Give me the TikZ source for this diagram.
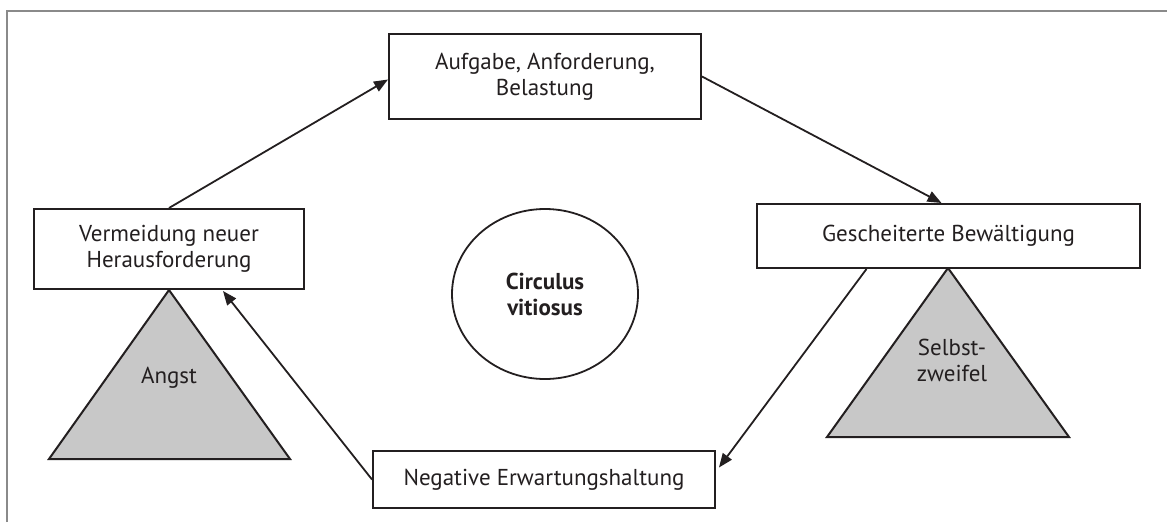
\documentclass[tikz,border=0pt]{standalone}
\usepackage{fontspec}
\setmainfont{PT Sans}
\usepackage{xcolor}
\usepackage{tikz}
\usetikzlibrary{positioning, arrows.meta, calc, shapes.geometric}
\definecolor{cvink}{HTML}{231F20}
\definecolor{cvgray}{HTML}{C8C8C8}
\definecolor{cvframe}{HTML}{8A8A8A}

\begin{document}
\begin{tikzpicture}[
    x=1pt, y=-1pt,
    stage/.style={draw=cvink, line width=2pt, fill=white, align=center,
                  font=\fontsize{23}{26}\selectfont, text=cvink, inner sep=0pt},
    moodtri/.style={draw=cvink, line width=2pt, fill=cvgray, line join=miter},
    moodtext/.style={font=\fontsize{23}{26}\selectfont, text=cvink, align=center},
    flow/.style={draw=cvink, line width=1.8pt, -{Triangle[length=14pt, width=11pt]}},
]
\useasboundingbox (0,0) rectangle (1167,522);

% frame (only top and left edge visible)
\draw[cvframe, line width=2.4pt] (7,522) -- (7,11) -- (1167,11);

% emotions (triangles under the boxes)
\draw[moodtri] (169,290) -- (290,459) -- (49,459) -- cycle;
\node[moodtext] (angst) at (169,378) {Angst};
\draw[moodtri] (948,268) -- (1069,437) -- (827,437) -- cycle;
\node[moodtext] (zweifel) at (952,360) {Selbst-\\zweifel};

% stages of the cycle
\node[stage, minimum width=312, minimum height=85] (task) at (545,76.5)
  {Aufgabe, Anforderung,\\Belastung};
\node[stage, minimum width=383, minimum height=64] (fail) at (948.5,236)
  {Gescheiterte Bewältigung};
\node[stage, minimum width=342, minimum height=57] (neg) at (544,479.5)
  {Negative Erwartungshaltung};
\node[stage, minimum width=270, minimum height=80] (avoid) at (169,249)
  {Vermeidung neuer\\Herausforderung};

% centre
\node[draw=cvink, line width=1.8pt, ellipse, minimum width=186, minimum height=170,
      inner sep=0pt, align=center, font=\fontsize{23}{26}\selectfont\bfseries, text=cvink]
  (circ) at (545,294) {Circulus\\vitiosus};

% arrows round the cycle
\draw[flow] (avoid.north) -- ($(task.west)+(0,3)$);
\draw[flow] (task.east) -- ($(fail.north)+(-7,0)$);
\draw[flow] ($(fail.south)+(-82,0)$) -- ($(neg.east)+(3,-12)$);
\draw[flow] (neg.west) -- ($(avoid.south)+(54,1)$);

\end{tikzpicture}
\end{document}
